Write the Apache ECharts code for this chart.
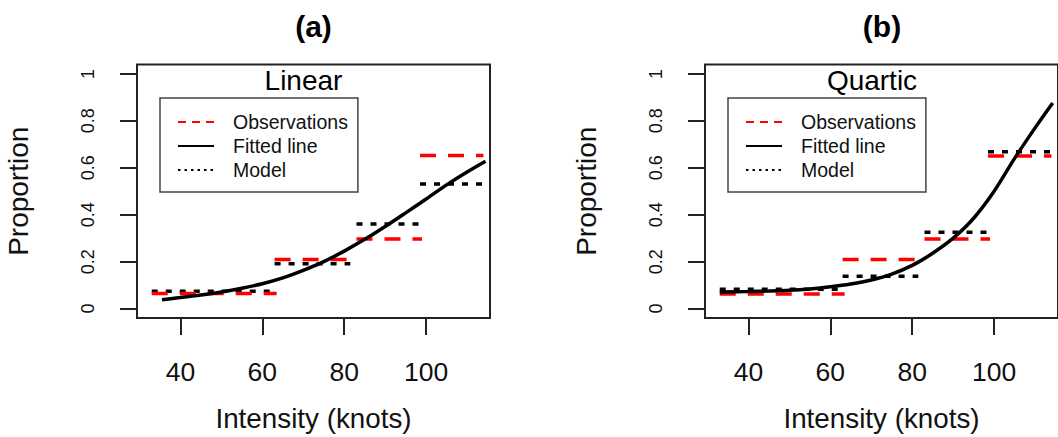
<!DOCTYPE html>
<html>
<head>
<meta charset="utf-8">
<script src="https://cdn.jsdelivr.net/npm/echarts@6/dist/echarts.min.js"></script>
<style>
html,body{margin:0;padding:0;background:#fff;}
#chart{width:1058px;height:437px;}
</style>
</head>
<body>
<div id="chart"></div>
<script>
// ---- data ----
const panelTitles = ['(a)', '(b)'];
const modelNames = ['Linear', 'Quartic'];
const legendNames = ['Observations', 'Fitted line', 'Model'];
const xTicks = [40, 60, 80, 100];
const yTicks = [0, 0.2, 0.4, 0.6, 0.8, 1];
const yTickLabels = ['0', '0.2', '0.4', '0.6', '0.8', '1'];

// intensity bins (knots): start and end of each step
const binStart = [33, 63, 83, 98.5];
const binEnd = [63.5, 81.5, 99, 114];

// panel (a) Linear
const obsA = [0.064, 0.209, 0.297, 0.652];
const modelA = [0.074, 0.191, 0.360, 0.531];
const fitXA = [35.5, 40, 45, 50, 55, 60, 65, 70, 75, 80, 85, 90, 95, 100, 105, 110, 114.5];
const fitYA = [0.038, 0.047, 0.058, 0.071, 0.087, 0.106, 0.131, 0.163, 0.200, 0.245, 0.295, 0.350, 0.408, 0.467, 0.527, 0.582, 0.628];

// panel (b) Quartic
const obsB = [0.062, 0.209, 0.297, 0.650];
const modelB = [0.082, 0.138, 0.325, 0.668];
const fitXB = [33, 40, 45, 50, 55, 60, 65, 70, 75, 80, 85, 90, 95, 100, 105, 110, 114.3];
const fitYB = [0.071, 0.073, 0.075, 0.078, 0.084, 0.093, 0.105, 0.122, 0.147, 0.184, 0.236, 0.300, 0.385, 0.500, 0.640, 0.770, 0.876];

// ---- chart ----
const FONT = "'Liberation Sans', Arial, sans-serif";
const chart = echarts.init(document.getElementById('chart'), null, {renderer: 'svg'});

function stepData(vals) {
  const d = [];
  vals.forEach((v, i) => {
    d.push([binStart[i], v]);
    d.push([binEnd[i], v]);
    if (i < vals.length - 1) d.push([binEnd[i], '-']);
  });
  return d;
}
function zip(xs, ys) { return xs.map((x, i) => [x, ys[i]]); }

const gridLefts = [137, 705];
const gridWidths = [353, 354];
const legendLefts = [160, 728];
const modelCenters = [303.5, 872];

function xAxisFor(i) {
  return {
    type: 'value', gridIndex: i, min: 29.4, max: 115.6,
    axisLine: {show: false, onZero: false},
    splitLine: {show: false},
    axisTick: {show: true, customValues: xTicks, length: 17, lineStyle: {color: '#222', width: 2}},
    axisLabel: {customValues: xTicks, fontSize: 26.5, margin: 40, color: '#111', fontFamily: FONT},
    name: 'Intensity (knots)', nameLocation: 'middle', nameGap: 86,
    nameTextStyle: {fontSize: 27.8, color: '#111', fontFamily: FONT}
  };
}
function yAxisFor(i) {
  return {
    type: 'value', gridIndex: i, min: -0.04, max: 1.04,
    axisLine: {show: false, onZero: false},
    splitLine: {show: false},
    axisTick: {show: true, customValues: yTicks, length: 17, lineStyle: {color: '#222', width: 2}},
    axisLabel: {
      customValues: yTicks, rotate: 90, fontSize: 18, margin: 40, color: '#111', fontFamily: FONT,
      formatter: v => { const k = yTicks.findIndex(t => Math.abs(t - v) < 1e-9); return k >= 0 ? yTickLabels[k] : ''; }
    },
    name: 'Proportion', nameLocation: 'middle', nameRotate: 90, nameGap: 105,
    nameTextStyle: {fontSize: 28, color: '#111', fontFamily: FONT}
  };
}

const series = [];
[[obsA, modelA, fitXA, fitYA], [obsB, modelB, fitXB, fitYB]].forEach((p, i) => {
  series.push({
    name: legendNames[2], type: 'line', xAxisIndex: i, yAxisIndex: i,
    data: stepData(p[1]), symbol: 'none', showSymbol: false, connectNulls: false,
    itemStyle: {color: '#000'},
    lineStyle: {color: '#000', width: 3.5, type: [6, 8]}, silent: true, animation: false
  });
  series.push({
    name: legendNames[0], type: 'line', xAxisIndex: i, yAxisIndex: i,
    data: stepData(p[0]), symbol: 'none', showSymbol: false, connectNulls: false,
    itemStyle: {color: '#ff0000'},
    lineStyle: {color: '#ff0000', width: 3.5, type: [16, 12]}, silent: true, animation: false
  });
  series.push({
    name: legendNames[1], type: 'line', xAxisIndex: i, yAxisIndex: i,
    data: zip(p[2], p[3]), symbol: 'none', showSymbol: false, smooth: 0.3,
    itemStyle: {color: '#000'},
    lineStyle: {color: '#000', width: 3.5, type: 'solid'}, silent: true, animation: false
  });
});

function legendFor(i) {
  return {
    left: legendLefts[i], top: 98, orient: 'vertical', selectedMode: false,
    padding: [14, 10, 12, 17], itemWidth: 36, itemHeight: 14, itemGap: 4,
    borderColor: '#444', borderWidth: 1.5, backgroundColor: '#fff',
    itemStyle: {opacity: 0},
    textStyle: {fontSize: 19.5, lineHeight: 20, color: '#111', fontFamily: FONT, padding: [0, 0, 0, 14]},
    data: [
      {name: legendNames[0], itemStyle: {opacity: 0}, lineStyle: {color: '#ff0000', width: 2, type: [8, 6]}},
      {name: legendNames[1], itemStyle: {opacity: 0}, lineStyle: {color: '#000', width: 2, type: 'solid'}},
      {name: legendNames[2], itemStyle: {opacity: 0}, lineStyle: {color: '#000', width: 2, type: [2.5, 4]}}
    ]
  };
}

const graphics = [];
panelTitles.forEach((t, i) => {
  graphics.push({type: 'text', x: gridLefts[i] + gridWidths[i] / 2, y: 26,
    style: {text: t, font: "bold 30px " + FONT, fill: '#000', textAlign: 'center', textVerticalAlign: 'middle'}});
  graphics.push({type: 'text', x: modelCenters[i], y: 80,
    style: {text: modelNames[i], font: "28px " + FONT, fill: '#000', textAlign: 'center', textVerticalAlign: 'middle'}});
});

chart.setOption({
  animation: false,
  backgroundColor: '#fff',
  grid: [0, 1].map(i => ({left: gridLefts[i], top: 64.5, width: gridWidths[i], height: 255,
    show: true, borderColor: '#222', borderWidth: 2, backgroundColor: 'transparent'})),
  xAxis: [xAxisFor(0), xAxisFor(1)],
  yAxis: [yAxisFor(0), yAxisFor(1)],
  legend: [legendFor(0), legendFor(1)],
  series: series,
  graphic: graphics
});
</script>
</body>
</html>
